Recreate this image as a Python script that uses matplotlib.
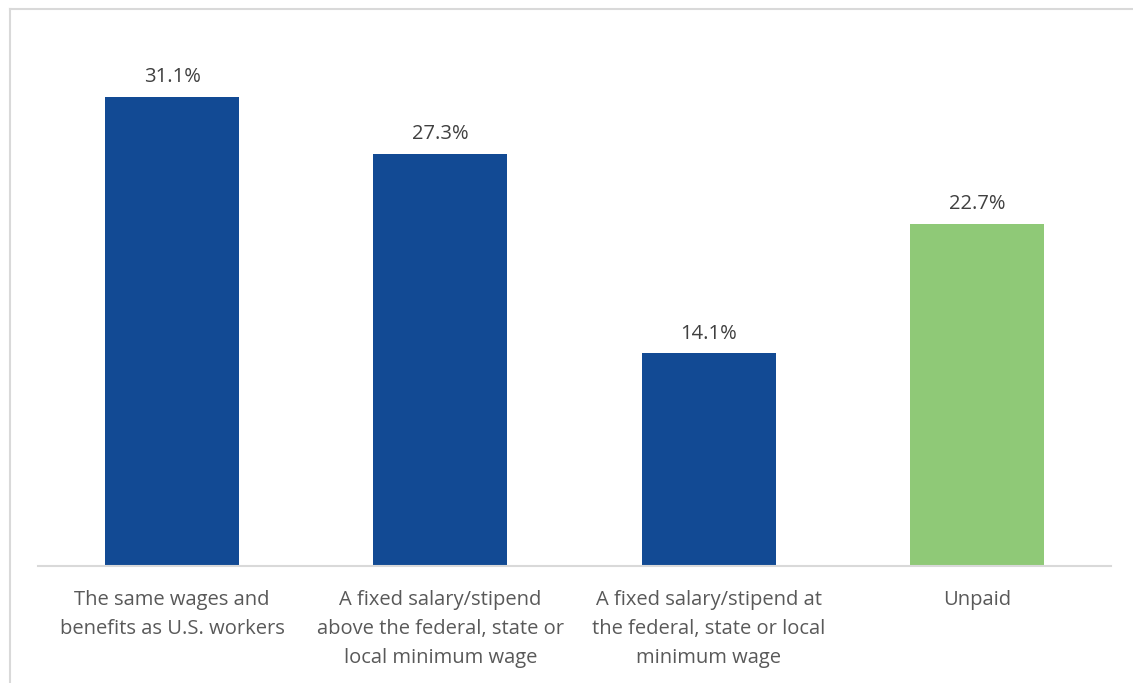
import matplotlib
matplotlib.use("Agg")
import matplotlib.pyplot as plt
from matplotlib.lines import Line2D

categories = [
    "The same wages and\nbenefits as U.S. workers",
    "A fixed salary/stipend\nabove the federal, state or\nlocal minimum wage",
    "A fixed salary/stipend at\nthe federal, state or local\nminimum wage",
    "Unpaid",
]
values = [31.1, 27.3, 14.1, 22.7]
colors = ["#124A94", "#124A94", "#124A94", "#8FC977"]

plt.rcParams['font.family'] = ['Open Sans', 'DejaVu Sans']

fig = plt.figure(figsize=(11.33, 6.83), dpi=100)
ax = fig.add_axes([38/1133, 117/683, 1073/1133, (566-38)/683])

x = range(len(categories))
bars = ax.bar(x, values, width=0.5, color=colors, zorder=2)
ax.set_xlim(-0.5, len(categories) - 0.5)
ax.set_ylim(0, 35)

for xi, v in zip(x, values):
    ax.annotate(f"{v:.1f}%", (xi, v), xytext=(0, 7), textcoords="offset points",
                ha="center", va="bottom", fontsize=14.5, color="#404040")

ax.set_xticks(list(x))
ax.set_xticklabels(categories, fontsize=14.5, color="#595959", linespacing=1.6)
ax.tick_params(axis="x", length=0, pad=17)
ax.set_yticks([])
for s in ["top", "right", "left"]:
    ax.spines[s].set_visible(False)
ax.spines["bottom"].set_color("#D9D9D9")
ax.spines["bottom"].set_linewidth(1.5)

# chart border (partially cropped)
fig.add_artist(Line2D([9.5/1133, 1.0], [1 - 8.5/683, 1 - 8.5/683], transform=fig.transFigure,
                      color="#D9D9D9", linewidth=1.5))
fig.add_artist(Line2D([9.5/1133, 9.5/1133], [0, 1 - 8.5/683], transform=fig.transFigure,
                      color="#D9D9D9", linewidth=1.5))

fig.savefig("out.png", dpi=100)
